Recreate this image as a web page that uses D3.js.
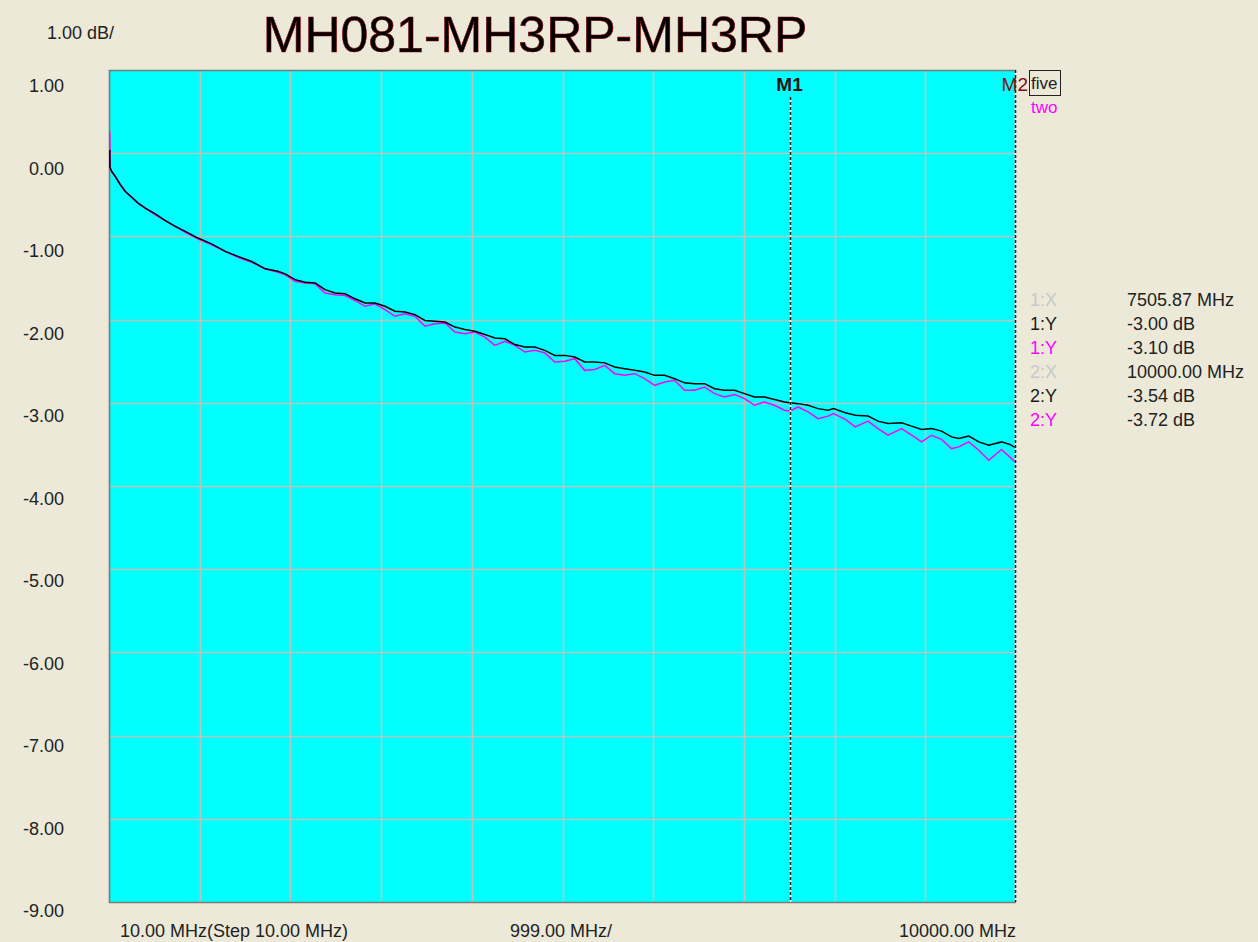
<!DOCTYPE html>
<html>
<head>
<meta charset="utf-8">
<script src="https://cdn.jsdelivr.net/npm/d3@7"></script>
<style>
  html, body { margin: 0; padding: 0; background: #ECE9D8; }
  svg { display: block; }
  text { font-family: "Liberation Sans", Arial, sans-serif; }
</style>
</head>
<body>
<script>
// ---------------- DATA ----------------
const title = "MH081-MH3RP-MH3RP";
const yTickValues = [1, 0, -1, -2, -3, -4, -5, -6, -7, -8, -9];
const xStart = 10, xStop = 10000, xDiv = 999;
const bottomLabels = ["10.00 MHz(Step 10.00 MHz)", "999.00 MHz/", "10000.00 MHz"];
const scaleLabel = "1.00 dB/";

const freqs = [10, 20, 40, 80, 130, 190, 260, 330, 410, 520, 630, 740, 850, 990, 1140, 1290, 1430, 1580, 1730, 1870,
  1950, 2060, 2170, 2280, 2390, 2500, 2610, 2720, 2830, 2940, 3050, 3160, 3270, 3380, 3490, 3600, 3710, 3820, 3930,
  4040, 4150, 4260, 4370, 4480, 4590, 4700, 4810, 4920, 5030, 5140, 5250, 5360, 5470, 5580, 5690, 5800, 5910,
  6020, 6130, 6240, 6350, 6460, 6570, 6680, 6790, 6900, 7010, 7120, 7230, 7340, 7450, 7510, 7600, 7710, 7820, 7930,
  7990, 8120, 8230, 8370, 8480, 8590, 8740, 8850, 8960, 9070, 9180, 9290, 9370, 9480, 9590, 9700, 9840, 9930, 10000];

const traceFive = [0.04, -0.17, -0.22, -0.28, -0.37, -0.46, -0.53, -0.60, -0.66, -0.73, -0.81, -0.88, -0.94, -1.02, -1.09, -1.18, -1.24, -1.30, -1.39, -1.42,
  -1.45, -1.52, -1.55, -1.56, -1.64, -1.68, -1.69, -1.75, -1.80, -1.80, -1.84, -1.90, -1.91, -1.94, -2.01, -2.02, -2.03, -2.09, -2.12,
  -2.14, -2.18, -2.22, -2.23, -2.30, -2.33, -2.33, -2.37, -2.43, -2.43, -2.45, -2.51, -2.51, -2.52, -2.57, -2.59, -2.61, -2.63,
  -2.67, -2.67, -2.71, -2.76, -2.77, -2.77, -2.83, -2.85, -2.85, -2.89, -2.93, -2.93, -2.96, -2.99, -3.00, -3.01, -3.03, -3.07, -3.09,
  -3.07, -3.12, -3.15, -3.16, -3.22, -3.25, -3.24, -3.28, -3.32, -3.31, -3.34, -3.41, -3.43, -3.40, -3.47, -3.51, -3.47, -3.50, -3.54];

const traceTwo = [0.26, -0.17, -0.22, -0.28, -0.37, -0.46, -0.53, -0.60, -0.66, -0.74, -0.81, -0.88, -0.95, -1.03, -1.10, -1.18, -1.25, -1.31, -1.39, -1.43,
  -1.46, -1.54, -1.56, -1.57, -1.68, -1.70, -1.71, -1.77, -1.84, -1.81, -1.88, -1.96, -1.93, -1.96, -2.08, -2.05, -2.04, -2.15, -2.17,
  -2.15, -2.21, -2.31, -2.26, -2.31, -2.39, -2.37, -2.40, -2.51, -2.50, -2.47, -2.61, -2.60, -2.55, -2.65, -2.67, -2.65, -2.71,
  -2.79, -2.75, -2.73, -2.85, -2.85, -2.81, -2.89, -2.93, -2.90, -2.95, -3.03, -2.99, -3.03, -3.09, -3.10, -3.05, -3.11, -3.19, -3.16,
  -3.13, -3.20, -3.29, -3.22, -3.31, -3.39, -3.31, -3.39, -3.47, -3.39, -3.44, -3.55, -3.53, -3.47, -3.57, -3.69, -3.56, -3.65, -3.72];

const traceNames = ["five", "two"];
const traceColors = ["#000000", "#FF00FF"];
const markerFreqs = [7505.87, 10000];
const markerNames = ["M1", "M2"];
const readoutLabels = ["1:X", "1:Y", "1:Y", "2:X", "2:Y", "2:Y"];
const readoutValues = ["7505.87 MHz", "-3.00 dB", "-3.10 dB", "10000.00 MHz", "-3.54 dB", "-3.72 dB"];
const readoutColors = ["#C8C8C8", "#1a1a1a", "#FF00FF", "#C8C8C8", "#1a1a1a", "#FF00FF"];

// ---------------- LAYOUT ----------------
const W = 1258, H = 942;
const plot = { left: 109, right: 1016, top: 70, bottom: 902 };
const FS = 18;

const svg = d3.select("body").append("svg").attr("width", W).attr("height", H);
svg.append("rect").attr("width", W).attr("height", H).attr("fill", "#ECE9D8");

const x = d3.scaleLinear().domain([xStart, xStop]).range([plot.left, plot.right]);
const y = d3.scaleLinear().domain([-9, 1]).range([plot.bottom, plot.top]);
const yLab = d3.scaleLinear().domain([-9, 1]).range([911, 86]);

// plot background
svg.append("rect")
  .attr("x", plot.left).attr("y", plot.top)
  .attr("width", plot.right - plot.left).attr("height", plot.bottom - plot.top)
  .attr("fill", "#00FFFF");

// grid
const xGrid = d3.range(0, 11).map(i => xStart + i * xDiv);
const gridG = svg.append("g");
gridG.selectAll("line.vx").data(xGrid.slice(1, 10)).enter().append("line")
  .attr("x1", d => Math.round(x(d)) + 0.5).attr("x2", d => Math.round(x(d)) + 0.5)
  .attr("y1", plot.top).attr("y2", plot.bottom)
  .attr("stroke", "#C0C0C0").attr("stroke-width", 1.6);
gridG.selectAll("line.hy").data(yTickValues.slice(1, 10)).enter().append("line")
  .attr("y1", d => Math.round(y(d)) + 0.5).attr("y2", d => Math.round(y(d)) + 0.5)
  .attr("x1", plot.left).attr("x2", plot.right)
  .attr("stroke", "#C0C0C0").attr("stroke-width", 1.6);

// border (top, left, bottom)
svg.append("path")
  .attr("d", `M${plot.right},${plot.top + 0.5}H${plot.left + 0.5}V${plot.bottom + 0.5}H${plot.right}`)
  .attr("fill", "none").attr("stroke", "#7a7a7a").attr("stroke-width", 1.6);

// Y labels
svg.selectAll("text.ylab").data(yTickValues).enter().append("text")
  .attr("x", 64).attr("y", d => yLab(d))
  .attr("dy", "0.35em").attr("text-anchor", "end")
  .attr("font-size", FS).attr("fill", "#222")
  .text(d => d.toFixed(2));

svg.append("text").attr("x", 47).attr("y", 39).attr("font-size", FS).attr("fill", "#222").text(scaleLabel);

// title
svg.append("text").attr("x", 535).attr("y", 52).attr("text-anchor", "middle")
  .attr("font-size", 50).attr("fill", "#000").attr("stroke", "#8a0000").attr("stroke-width", 0.6)
  .text(title);

// bottom labels
svg.append("text").attr("x", 120).attr("y", 937).attr("font-size", FS).attr("fill", "#222").text(bottomLabels[0]);
svg.append("text").attr("x", 510).attr("y", 937).attr("font-size", FS).attr("fill", "#222").text(bottomLabels[1]);
svg.append("text").attr("x", plot.right).attr("y", 937).attr("text-anchor", "end").attr("font-size", FS).attr("fill", "#222").text(bottomLabels[2]);

// traces
const line = d3.line().x((d, i) => x(freqs[i]) + (i === 0 ? 0.8 : 0)).y(d => y(d));
svg.append("clipPath").attr("id", "clip").append("rect")
  .attr("x", plot.left).attr("y", plot.top).attr("width", plot.right - plot.left).attr("height", plot.bottom - plot.top);
const traceG = svg.append("g").attr("clip-path", "url(#clip)");
traceG.append("path").datum(traceTwo).attr("d", line)
  .attr("fill", "none").attr("stroke", traceColors[1]).attr("stroke-width", 1.5);
traceG.append("path").datum(traceFive).attr("d", line)
  .attr("fill", "none").attr("stroke", traceColors[0]).attr("stroke-width", 1.5);

// markers
markerFreqs.forEach((f, i) => {
  const mx = Math.round(x(f)) + 0.5 - (i === 1 ? 1 : 0);
  const y0 = i === 0 ? 97 : plot.top;
  svg.append("line").attr("x1", mx).attr("x2", mx).attr("y1", y0).attr("y2", plot.bottom)
    .attr("stroke", "#ffffff").attr("stroke-width", 1.6);
  svg.append("line").attr("x1", mx).attr("x2", mx).attr("y1", y0).attr("y2", plot.bottom)
    .attr("stroke", "#1a1a1a").attr("stroke-width", 1.6).attr("stroke-dasharray", "3,2");
});
svg.append("text").attr("x", x(markerFreqs[0])).attr("y", 91).attr("text-anchor", "middle")
  .attr("font-size", 19).attr("font-weight", "bold").attr("fill", "#2a1010").text(markerNames[0]);
svg.append("text").attr("x", x(markerFreqs[1]) + 12).attr("y", 91).attr("text-anchor", "end")
  .attr("font-size", 19).attr("fill", "#7a1010").text(markerNames[1]);

// legend
svg.append("rect").attr("x", 1029.5).attr("y", 70.5).attr("width", 31).attr("height", 25)
  .attr("fill", "none").attr("stroke", "#222").attr("stroke-width", 1);
svg.append("text").attr("x", 1031).attr("y", 89).attr("font-size", 17).attr("fill", "#222").text(traceNames[0]);
svg.append("text").attr("x", 1031).attr("y", 113).attr("font-size", 17).attr("fill", traceColors[1]).text(traceNames[1]);

// readout
const rowY = d3.scaleLinear().domain([0, 5]).range([300, 420]);
readoutLabels.forEach((t, i) => {
  svg.append("text").attr("x", 1030).attr("y", rowY(i)).attr("dy", "0.35em")
    .attr("font-size", FS).attr("fill", readoutColors[i]).text(t);
  svg.append("text").attr("x", 1127).attr("y", rowY(i)).attr("dy", "0.35em")
    .attr("font-size", FS).attr("fill", "#222").text(readoutValues[i]);
});
</script>
</body>
</html>
